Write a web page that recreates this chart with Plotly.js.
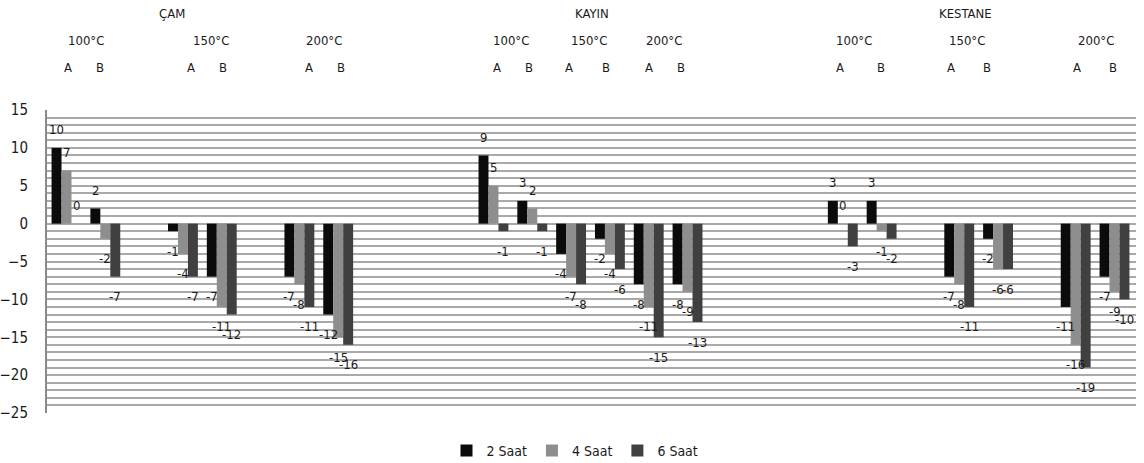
<!DOCTYPE html>
<html>
<head>
<meta charset="utf-8">
<script src="https://cdn.plot.ly/plotly-3.0.1.min.js"></script>
<style>
  html, body { margin: 0; padding: 0; background: #fff; }
  #chart { width: 1144px; height: 463px; }
</style>
</head>
<body>
<div id="chart"></div>
<script>
// Change (%) after heat treatment, per wood species, temperature and sample (A/B)
const species = ['ÇAM', 'KAYIN', 'KESTANE'];
const samples = ['100°C A', '100°C B', '150°C A', '150°C B', '200°C A', '200°C B'];
const seriesNames = ['2 Saat', '4 Saat', '6 Saat'];
const seriesColors = ['#0b0b0b', '#8e8e8e', '#404040'];

const cam2 = [10, 2, -1, -7, -7, -12];
const cam4 = [7, -2, -4, -11, -8, -15];
const cam6 = [0, -7, -7, -12, -11, -16];

const kayin2 = [9, 3, -4, -2, -8, -8];
const kayin4 = [5, 2, -7, -4, -11, -9];
const kayin6 = [-1, -1, -8, -6, -15, -13];

const kestane2 = [3, 3, -7, -2, -11, -7];
const kestane4 = [0, -1, -8, -6, -16, -9];
const kestane6 = [-3, -2, -11, -6, -19, -10];

// Category slots along the x axis; entries starting with "_" are empty spacers
const slots = [
  'ÇAM 100°C A', 'ÇAM 100°C B', '_1', 'ÇAM 150°C A', 'ÇAM 150°C B', '_2', 'ÇAM 200°C A', 'ÇAM 200°C B',
  '_3', '_4', '_5',
  'KAYIN 100°C A', 'KAYIN 100°C B', 'KAYIN 150°C A', 'KAYIN 150°C B', 'KAYIN 200°C A', 'KAYIN 200°C B',
  '_6', '_7', '_8',
  'KESTANE 100°C A', 'KESTANE 100°C B', '_9', 'KESTANE 150°C A', 'KESTANE 150°C B', '_10', 'KESTANE 200°C A', 'KESTANE 200°C B'
];

const bySeries = [
  [cam2, kayin2, kestane2],
  [cam4, kayin4, kestane4],
  [cam6, kayin6, kestane6]
];

const FONT = '"DejaVu Sans Condensed", "Liberation Sans", sans-serif';

function valueAt(seriesIdx, slot) {
  for (let s = 0; s < species.length; s++) {
    for (let k = 0; k < samples.length; k++) {
      if (slot === species[s] + ' ' + samples[k]) return bySeries[seriesIdx][s][k];
    }
  }
  return null;
}

const traces = seriesNames.map((name, i) => ({
  type: 'bar',
  name: name,
  x: slots,
  y: slots.map(sl => valueAt(i, sl)),
  marker: { color: seriesColors[i], line: { width: 0 } },
  hoverinfo: 'x+y'
}));

// Value labels next to the bar ends
const annotations = [];
const barPx = 10;
traces.forEach((t, i) => {
  t.x.forEach((cat, j) => {
    const v = t.y[j];
    if (v === null) return;
    annotations.push({
      x: cat, y: v, xref: 'x', yref: 'y',
      text: String(v), showarrow: false,
      xshift: (i - 1) * barPx,
      yshift: v >= 0 ? 18 : -20,
      font: { family: FONT, size: 13, color: '#1a1a1a' }
    });
  });
});

// Header labels above the plot area (pixel positions within the figure)
const L = 47, R = 1136, T = 110, B = 413;
const px = x => (x - L) / (R - L);
const py = y => 1 + (T - y) / (B - T);
function header(text, x, y, size) {
  annotations.push({
    xref: 'paper', yref: 'paper', x: px(x), y: py(y),
    xanchor: 'center', yanchor: 'middle', showarrow: false,
    text: text, font: { family: FONT, size: size, color: '#1a1a1a' }
  });
}
const speciesX = [172, 592, 965];
species.forEach((s, i) => header(s, speciesX[i], 14, 13));
const tempLabels = ['100°C', '150°C', '200°C'];
const tempX = [[86, 211, 324], [511, 589, 664], [854, 967, 1096]];
tempX.forEach(row => row.forEach((x, k) => header(tempLabels[k], x, 40, 13)));
const abX = [
  [68, 100, 191, 223, 309, 341],
  [497, 529, 569, 606, 649, 681],
  [840, 881, 951, 987, 1077, 1113]
];
abX.forEach(row => row.forEach((x, k) => header(k % 2 === 0 ? 'A' : 'B', x, 68, 13)));

const layout = {
  width: 1144, height: 463,
  margin: { l: L, r: 1144 - R, t: T, b: 463 - B, pad: 0, autoexpand: false },
  paper_bgcolor: '#ffffff', plot_bgcolor: '#ffffff',
  barmode: 'group', bargap: 0.23, bargroupgap: 0,
  showlegend: true,
  legend: {
    orientation: 'h', x: px(575), xanchor: 'center', y: py(451), yanchor: 'middle',
    font: { family: FONT, size: 14, color: '#1a1a1a' },
    itemwidth: 30, traceorder: 'normal'
  },
  xaxis: {
    type: 'category', categoryorder: 'array', categoryarray: slots,
    showticklabels: false, ticks: '', showgrid: false, zeroline: false,
    showline: false, fixedrange: true
  },
  yaxis: {
    range: [-25, 15], dtick: 5, tick0: 0,
    showgrid: true, gridcolor: '#a9a9a9', gridwidth: 2,
    minor: { dtick: 1, showgrid: true, gridcolor: '#a9a9a9', gridwidth: 2 },
    zeroline: false, showline: true, linecolor: '#8a8a8a', linewidth: 2,
    ticks: '', ticklabelstandoff: 14,
    tickfont: { family: FONT, size: 15, color: '#1a1a1a' },
    fixedrange: true
  },
  annotations: annotations,
  font: { family: FONT }
};

Plotly.newPlot('chart', traces, layout, { displayModeBar: false, staticPlot: true });
</script>
</body>
</html>
